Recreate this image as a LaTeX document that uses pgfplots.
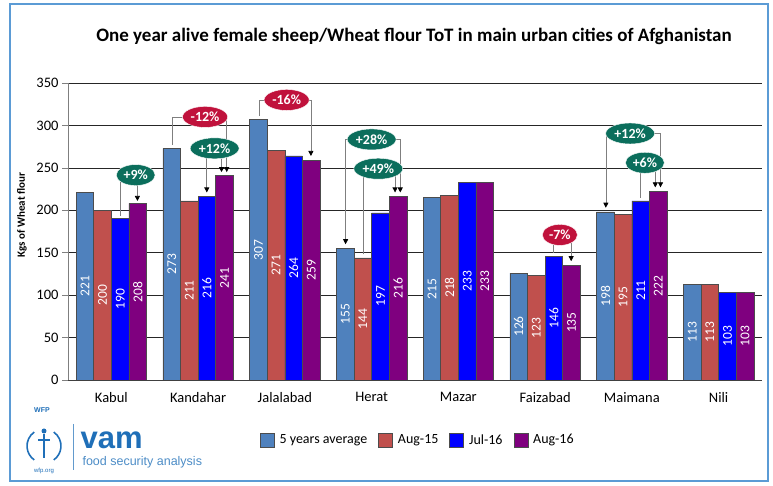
\documentclass[border=0pt]{standalone}
\usepackage{pgfplots}
\pgfplotsset{compat=1.18}
\usepackage{fontspec}
\setmainfont{Carlito}
\newfontfamily\arialfont{Liberation Sans}
\usetikzlibrary{arrows.meta,shapes.geometric}

\definecolor{avgblue}{HTML}{4F81BD}
\definecolor{augred}{HTML}{C0504D}
\definecolor{julblue}{HTML}{0000FF}
\definecolor{augpurple}{HTML}{7F007F}
\definecolor{tagred}{HTML}{C0123C}
\definecolor{taggreen}{HTML}{0B6E5C}
\definecolor{framecol}{HTML}{5B9BD5}
\definecolor{wfpblue}{HTML}{1F6FB8}
\definecolor{legline}{HTML}{7F7F7F}

\pgfplotstableread{
cat avg aug15 jul16 aug16
0 221 200 190 208
1 273 211 216 241
2 307 271 264 259
3 155 144 197 216
4 215 218 233 233
5 126 123 146 135
6 198 195 211 222
7 113 113 103 103
}\tot

\tikzset{
  tag/.style={ellipse, draw=white, line width=0.4pt, text=white, inner xsep=1.6pt, inner ysep=0.6pt,
    minimum height=21pt, font=\bfseries\fontsize{14}{15}\selectfont},
  leg/.style={legline, line width=0.7pt},
  arr/.style={legline, line width=0.7pt, -{Triangle[width=5pt,length=5pt,black]}},
}

\begin{document}
\begin{tikzpicture}[x=1pt,y=1pt]
\path[use as bounding box] (0,0) rectangle (773,486);
\draw[framecol, line width=2pt] (10,5) rectangle (768,482);

\node[font=\bfseries\fontsize{19}{22}\selectfont] at (414,450)
  {One year alive female sheep/Wheat flour ToT in main urban cities of Afghanistan};

\begin{axis}[
  at={(68pt,106pt)}, anchor=south west,
  width=694pt, height=297pt, scale only axis,
  xmin=-0.5, xmax=7.5, ymin=0, ymax=350,
  xtick={0,...,7},
  xticklabels={Kabul,Kandahar,Jalalabad,Herat,Mazar,Faizabad,Maimana,Nili},
  ytick={0,50,...,350},
  axis x line*=bottom, axis y line*=left,
  x axis line style={black!75, line width=0.7pt},
  y axis line style={legline, line width=0.7pt},
  ymajorgrids, grid style={black!85, line width=0.6pt},
  tick align=outside, major tick length=6pt,
  xtick style={draw=none},
  ytick style={legline, line width=0.7pt},
  tick label style={font=\fontsize{14.5}{16}\selectfont},
  xticklabel style={yshift=-3pt},
  /pgf/number format/assume math mode=true,
  ybar, bar width=0.203,
  every axis plot/.append style={draw=black!70, line width=0.6pt},
  visualization depends on=y \as \rawy,
  nodes near coords,
  every node near coord/.append style={yshift={-0.4242857*\rawy}, rotate=90,
    anchor=center, text=white, font=\fontsize{13.5}{14}\selectfont},
  legend style={at={(0.272,-0.202)}, anchor=west, draw=none, fill=none,
    legend columns=-1, font=\fontsize{14}{15}\selectfont,
    /tikz/every odd column/.append style={column sep=3pt},
    /tikz/every even column/.append style={column sep=9pt}},
  legend image code/.code={\draw[#1, draw=black!70] (0pt,-7pt) rectangle (14pt,7pt);},
]
\addplot[fill=avgblue, bar shift=-0.3045] table[x=cat, y=avg] {\tot};
\addplot[fill=augred, bar shift=-0.1015] table[x=cat, y=aug15] {\tot};
\addplot[fill=julblue, bar shift=0.1015] table[x=cat, y=jul16] {\tot};
\addplot[fill=augpurple, bar shift=0.3045] table[x=cat, y=aug16] {\tot};
\legend{5 years average, Aug-15, Jul-16, Aug-16}

% Kabul +9%
\draw[leg] (axis cs:0.1,193) |- (axis cs:0.3,241.5);
\draw[arr] (axis cs:0.3,241.5) -- (axis cs:0.3,211);
% Kandahar -12%
\draw[leg] (axis cs:0.7,277) |- (axis cs:1.33,310);
\draw[arr] (axis cs:1.33,310) -- (axis cs:1.33,245);
% Kandahar +12%
\draw[arr] (axis cs:1.27,273) -| (axis cs:1.1,221);
\draw[arr] (axis cs:1.27,273) -- (axis cs:1.27,245);
% Jalalabad -16%
\draw[leg] (axis cs:1.7,311) |- (axis cs:2.3,330);
\draw[arr] (axis cs:2.3,330) -- (axis cs:2.3,264);
% Herat +28%
\draw[arr] (axis cs:3.33,283.5) -| (axis cs:2.7,160);
\draw[arr] (axis cs:3.33,283.5) -- (axis cs:3.33,221);
% Herat +49%
\draw[leg] (axis cs:2.9,148) |- (axis cs:3.27,249);
\draw[arr] (axis cs:3.27,249) -- (axis cs:3.27,221);
% Faizabad -7%
\draw[leg] (axis cs:5.1,150) |- (axis cs:5.3,171);
\draw[arr] (axis cs:5.3,171) -- (axis cs:5.3,140);
% Maimana +12%
\draw[arr] (axis cs:6.33,290.5) -| (axis cs:5.7,203);
\draw[arr] (axis cs:6.33,290.5) -- (axis cs:6.33,227);
% Maimana +6%
\draw[leg] (axis cs:6.1,215) |- (axis cs:6.27,256);
\draw[arr] (axis cs:6.27,256) -- (axis cs:6.27,227);

\node[tag, fill=taggreen] at (axis cs:0.28,241.5) {+9\%};
\node[tag, fill=tagred] at (axis cs:1.08,310) {-12\%};
\node[tag, fill=taggreen] at (axis cs:1.19,273) {+12\%};
\node[tag, fill=tagred] at (axis cs:2.02,330) {-16\%};
\node[tag, fill=taggreen] at (axis cs:3.0,283.5) {+28\%};
\node[tag, fill=taggreen] at (axis cs:3.077,249) {+49\%};
\node[tag, fill=tagred] at (axis cs:5.17,171) {-7\%};
\node[tag, fill=taggreen] at (axis cs:5.98,290.5) {+12\%};
\node[tag, fill=taggreen] at (axis cs:6.15,256) {+6\%};
\end{axis}

\node[rotate=90, font=\bfseries\fontsize{11}{12}\selectfont] at (22,271) {Kgs of Wheat flour};

% WFP / vam logo
\node[wfpblue, font=\arialfont\bfseries\fontsize{7}{8}\selectfont] at (42,76) {WFP};
\draw[wfpblue, line width=1.6pt] (44,40) ++(125:17) arc (125:235:17);
\draw[wfpblue, line width=1.6pt] (44,40) ++(55:17) arc (55:-55:17);
\draw[wfpblue, line width=1.2pt] (44,28) -- (44,52) (38,46) -- (50,46);
\fill[wfpblue] (44,55) circle (2.5);
\node[wfpblue, font=\arialfont\fontsize{6}{7}\selectfont] at (44,15) {wfp.org};
\draw[wfpblue!70, line width=0.6pt] (73,62) -- (73,16);
\node[anchor=base west, wfpblue, font=\arialfont\bfseries\fontsize{31}{32}\selectfont] at (77,37) {vam};
\node[anchor=base west, wfpblue!80, font=\arialfont\fontsize{12.5}{14}\selectfont] at (79,20) {food security analysis};
\end{tikzpicture}
\end{document}
